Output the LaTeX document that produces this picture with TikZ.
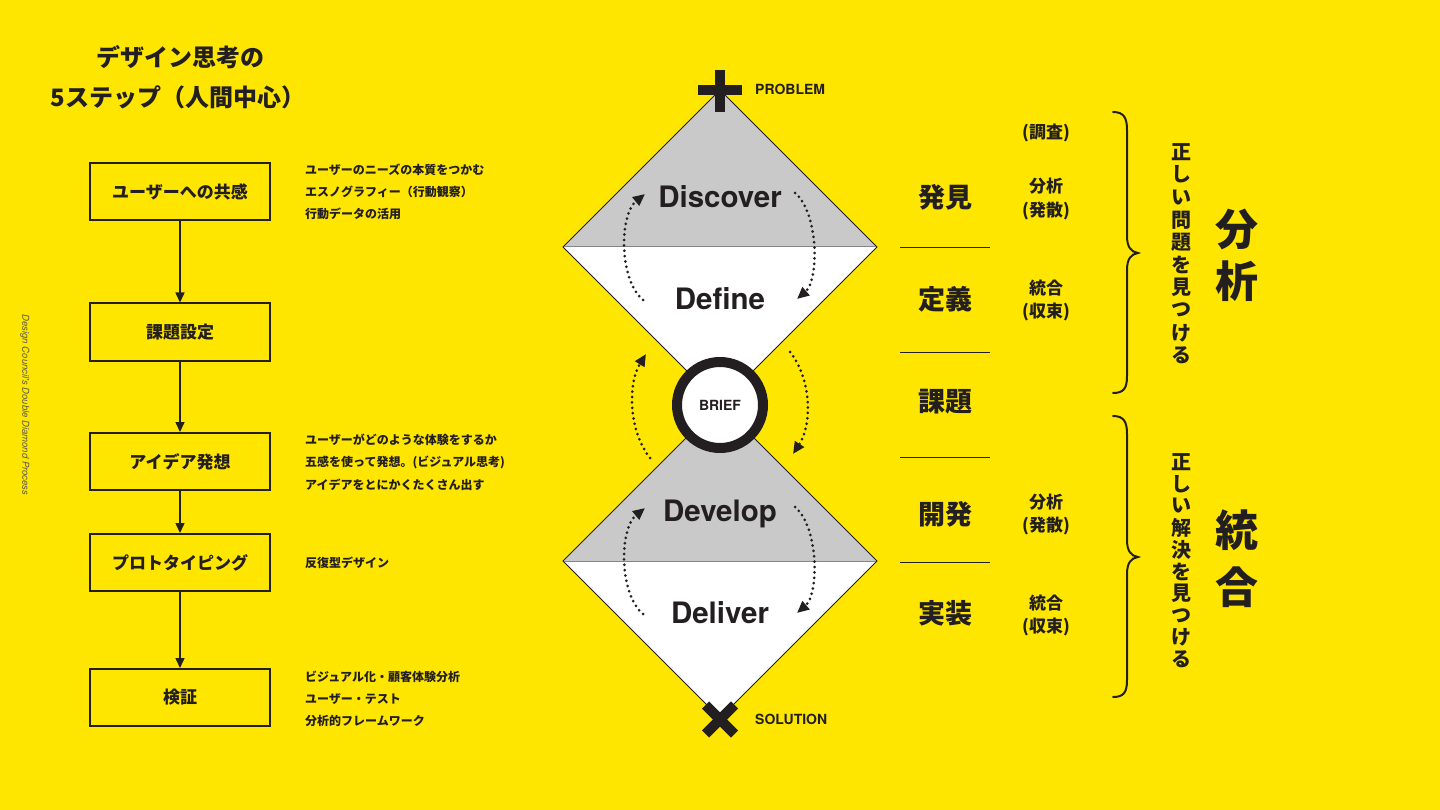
\documentclass[tikz,border=0pt]{standalone}
\usepackage{fontspec}
\newfontfamily\jp{Noto Sans CJK JP}
\newfontfamily\hv{TeX Gyre Heros}
\usetikzlibrary{arrows.meta}
\definecolor{bgY}{RGB}{255,230,0}
\definecolor{ink}{RGB}{35,31,32}
\definecolor{dgray}{RGB}{201,201,201}
\definecolor{mgray}{RGB}{90,90,80}
\begin{document}
\begin{tikzpicture}[x=1pt,y=-1pt,
  stepbox/.style={draw=ink, line width=2pt, minimum width=180pt, minimum height=57pt, inner sep=0pt, text=ink, font=\jp\bfseries\fontsize{17}{20}\selectfont},
  note/.style={anchor=west, inner sep=0pt, text=ink, font=\jp\bfseries\fontsize{12}{14}\selectfont},
  flow/.style={draw=ink, line width=1.5pt, -{Triangle[length=10pt,width=9pt]}},
  dotarc/.style={draw=ink, line width=3pt, dash pattern=on 0pt off 5.4pt, line cap=round, -{Triangle[length=12pt,width=10.5pt]}},
  phase/.style={text=ink, inner sep=0pt, font=\hv\bfseries\fontsize{29.5}{32}\selectfont},
  capt/.style={text=ink, inner sep=0pt, anchor=west, font=\hv\bfseries\fontsize{14}{16}\selectfont},
  jlab/.style={text=ink, inner sep=0pt, font=\jp\bfseries\fontsize{27}{30}\selectfont},
  slab/.style={text=ink, inner sep=0pt, font=\jp\bfseries\fontsize{17}{20}\selectfont},
  vch/.style={text=ink, inner sep=0pt, font=\jp\bfseries\fontsize{20}{22}\selectfont},
  bigch/.style={text=ink, inner sep=0pt, font=\jp\bfseries\fontsize{43}{46}\selectfont},
  hrule/.style={draw=ink, line width=0.8pt},
  bracepath/.style={draw=ink, line width=2pt, line cap=round}
]
\useasboundingbox (0,0) rectangle (1440,810);
\fill[bgY] (0,0) rectangle (1440,810);

% ---------------- title ----------------
\node[text=ink, inner sep=0pt, font=\jp\bfseries\fontsize{24}{28}\selectfont] (t1) at (180,57) {デザイン思考の};
\node[text=ink, inner sep=0pt, font=\jp\bfseries\fontsize{24}{28}\selectfont] (t2) at (178,97) {5ステップ（人間中心）};

% ---------------- rotated caption ----------------
\node[rotate=-90, text=mgray, inner sep=0pt, font=\hv\itshape\fontsize{9.5}{11}\selectfont] (dc) at (25,405) {Design Council's Double Diamond Process};

% ---------------- step boxes ----------------
\node[stepbox] (b1) at (180,191.5) {ユーザーへの共感};
\node[stepbox] (b2) at (180,332) {課題設定};
\node[stepbox] (b3) at (180,461.5) {アイデア発想};
\node[stepbox] (b4) at (180,562.5) {プロトタイピング};
\node[stepbox] (b5) at (180,697.5) {検証};
\draw[flow] (b1) -- (b2);
\draw[flow] (b2) -- (b3);
\draw[flow] (b3) -- (b4);
\draw[flow] (b4) -- (b5);

% ---------------- notes ----------------
\node[note] (n11) at (305,170) {ユーザーのニーズの本質をつかむ};
\node[note] (n12) at (305,192) {エスノグラフィー（行動観察）};
\node[note] (n13) at (305,214) {行動データの活用};
\node[note] (n31) at (305,440) {ユーザーがどのような体験をするか};
\node[note] (n32) at (305,462) {五感を使って発想。(ビジュアル思考)};
\node[note] (n33) at (305,485) {アイデアをとにかくたくさん出す};
\node[note] (n41) at (305,563) {反復型デザイン};
\node[note] (n51) at (305,677) {ビジュアル化・顧客体験分析};
\node[note] (n52) at (305,699) {ユーザー・テスト};
\node[note] (n53) at (305,721) {分析的フレームワーク};

% ---------------- double diamond ----------------
\fill[dgray] (720,90) -- (877,247) -- (563,247) -- cycle;
\fill[white] (563,247) -- (877,247) -- (720,404) -- cycle;
\fill[dgray] (720,404) -- (877,561) -- (563,561) -- cycle;
\fill[white] (563,561) -- (877,561) -- (720,718) -- cycle;
\draw[ink, line width=0.8pt, line join=miter] (720,90) -- (877,247) -- (720,404) -- (563,247) -- cycle;
\draw[ink, line width=0.8pt, line join=miter] (720,404) -- (877,561) -- (720,718) -- (563,561) -- cycle;
\draw[ink!55, line width=1pt] (564,247) -- (876,247);
\draw[ink!55, line width=1pt] (564,561) -- (876,561);

% plus and cross
\fill[ink] (698,85) rectangle (742,95);
\fill[ink] (715,70) rectangle (725,112);
\draw[ink, line width=10pt] (705.5,705) -- (734.5,734);
\draw[ink, line width=10pt] (734.5,705) -- (705.5,734);

\node[capt] (prob) at (755,89) {PROBLEM};
\node[capt] (sol) at (755,719) {SOLUTION};

\node[phase] (disc) at (720,197) {Discover};
\node[phase] (defi) at (720,299) {Define};
\node[phase] (deve) at (720,514) {Develop};
\node[phase] (deli) at (720,613) {Deliver};

% brief
\node[circle, draw=ink, line width=10pt, fill=white, minimum size=86pt, inner sep=0pt, text=ink, font=\hv\bfseries\fontsize{14}{16}\selectfont] (brief) at (720,405) {BRIEF};

% dotted loops
\draw[dotarc] (643,300) .. controls (619,280) and (619,215) .. (645,194);
\draw[dotarc] (795,193) .. controls (819,213) and (819,280) .. (797,299);
\draw[dotarc] (650,458) .. controls (628,430) and (628,383) .. (646,354);
\draw[dotarc] (790,352) .. controls (812,380) and (812,425) .. (793,454);
\draw[dotarc] (643,614) .. controls (619,594) and (619,529) .. (645,508);
\draw[dotarc] (795,507) .. controls (819,527) and (819,594) .. (797,613);

% ---------------- right column ----------------
\node[jlab] (j1) at (945,197) {発見};
\node[jlab] (j2) at (945,299) {定義};
\node[jlab] (j3) at (945,402) {課題};
\node[jlab] (j4) at (945,514) {開発};
\node[jlab] (j5) at (945,613) {実装};
\coordinate (r1a) at (900,247); \coordinate (r1b) at (990,247);
\coordinate (r2a) at (900,352); \coordinate (r2b) at (990,352);
\coordinate (r3a) at (900,457); \coordinate (r3b) at (990,457);
\coordinate (r4a) at (900,562); \coordinate (r4b) at (990,562);
\draw[hrule] (r1a) -- (r1b);
\draw[hrule] (r2a) -- (r2b);
\draw[hrule] (r3a) -- (r3b);
\draw[hrule] (r4a) -- (r4b);

\node[slab] (s0) at (1046,133) {(調査)};
\node[slab] (s1) at (1046,186) {分析};
\node[slab] (s2) at (1046,211) {(発散)};
\node[slab] (s3) at (1046,288) {統合};
\node[slab] (s4) at (1046,312) {(収束)};
\node[slab] (s5) at (1046,502) {分析};
\node[slab] (s6) at (1046,526) {(発散)};
\node[slab] (s7) at (1046,603) {統合};
\node[slab] (s8) at (1046,627) {(収束)};

% braces
\draw[bracepath] (1113,112) .. controls (1124,112) and (1127,118) .. (1127,130) -- (1127,236) .. controls (1127,247) and (1131,252) .. (1138,253) .. controls (1131,254) and (1127,259) .. (1127,270) -- (1127,376) .. controls (1127,388) and (1124,393) .. (1113,393);
\draw[bracepath] (1113,416) .. controls (1124,416) and (1127,422) .. (1127,434) -- (1127,540) .. controls (1127,551) and (1131,556) .. (1138,557) .. controls (1131,558) and (1127,563) .. (1127,574) -- (1127,680) .. controls (1127,692) and (1124,697) .. (1113,697);

% vertical texts
\foreach \c [count=\i] in {正,し,い,問,題,を,見,つ,け,る}
  \node[vch] (va\i) at (1181,{152+(\i-1)*22.6}) {\c};
\foreach \c [count=\i] in {正,し,い,解,決,を,見,つ,け,る}
  \node[vch] (vb\i) at (1181,{462+(\i-1)*21.9}) {\c};

\node[bigch] (g1) at (1237,229) {分};
\node[bigch] (g2) at (1237,281) {析};
\node[bigch] (g3) at (1237,530) {統};
\node[bigch] (g4) at (1237,587) {合};
\end{tikzpicture}
\end{document}
